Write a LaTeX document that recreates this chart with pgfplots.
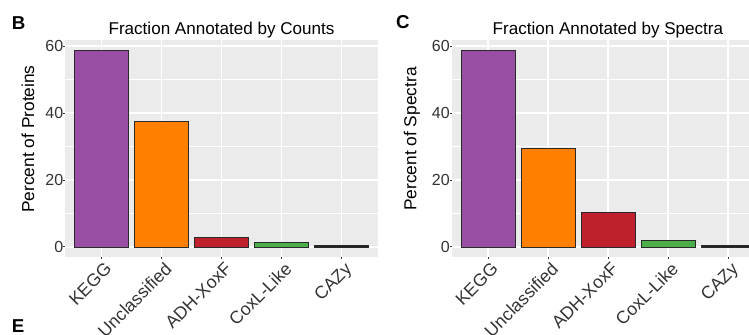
\documentclass[border=0pt]{standalone}
\usepackage{fontspec}
\setmainfont{Liberation Sans}
\usepackage{pgfplots}
\pgfplotsset{compat=1.18}
\definecolor{panelbg}{HTML}{EBEBEB}
\definecolor{cpurple}{HTML}{984EA3}
\definecolor{corange}{HTML}{FF7F00}
\definecolor{cred}{HTML}{C01F2E}
\definecolor{cgreen}{HTML}{4DAF4A}
\definecolor{cdark}{HTML}{222222}
\definecolor{barline}{HTML}{2A2A2A}
\definecolor{ticktext}{HTML}{333333}
\newcommand{\ytfont}{\fontsize{12}{14}\selectfont}
\newcommand{\xtfont}{\fontsize{13.3}{16}\selectfont}
\newcommand{\lblfont}{\fontsize{13}{15}\selectfont}
\newcommand{\ttlfont}{\fontsize{12.8}{15}\selectfont}
\pgfplotsset{
  ggbar/.style={
    scale only axis,
    height=162.5pt,
    ymin=-2.95, ymax=61.85,
    xmin=-0.6,
    axis background/.style={fill=panelbg},
    axis line style={draw=none},
    tick pos=left, tick align=outside,
    major tick length=1.5pt, minor tick length=0pt,
    every tick/.style={draw=black!80, line width=0.6pt},
    ytick={0,20,40,60}, minor ytick={10,30,50},
    xtick={0,1,2,3,4},
    xticklabels={KEGG,Unclassified,ADH-XoxF,CoxL-Like,CAZy},
    grid=both,
    major grid style={white, line width=1.1pt},
    minor grid style={white, line width=0.55pt},
    /pgf/number format/assume math mode=true,
    yticklabel style={font=\ytfont, text=ticktext, inner sep=0pt, xshift=0pt},
    xticklabel style={font=\xtfont, text=ticktext, rotate=45, anchor=north east, inner sep=0pt, yshift=-2.5pt},
    ylabel style={font=\lblfont, anchor=center},
    title style={font=\ttlfont, anchor=base, yshift=-1.5pt},
  },
  ggb/.style={ybar, bar width=0.9, bar shift=0pt, draw=barline, line width=0.5pt},
}
\begin{document}
\begin{tikzpicture}
\path[use as bounding box] (0,0) rectangle (561.75pt,251.25pt);
% Panel B
\begin{axis}[ggbar,
  at={(49.125pt,58.725pt)}, anchor=south west,
  width=234pt, xmax=4.6,
  title={Fraction Annotated by Counts},
  title style={at={(axis description cs:0.5,1)}},
  ylabel={Percent of Proteins},
  ylabel style={at={(axis description cs:-0.1202,0.543)}},
]
\addplot[ggb, fill=cpurple] coordinates {(0,58.8)};
\addplot[ggb, fill=corange] coordinates {(1,37.5)};
\addplot[ggb, fill=cred] coordinates {(2,2.8)};
\addplot[ggb, fill=cgreen] coordinates {(3,1.3)};
\addplot[ggb, fill=cdark] coordinates {(4,0.3)};
\end{axis}
% Panel C
\begin{axis}[ggbar,
  at={(339pt,58.725pt)}, anchor=south west,
  width=222.75pt, xmax=4.35,
  title={Fraction Annotated by Spectra},
  title style={at={(axis description cs:0.525,1)}},
  ylabel={Percent of Spectra},
  ylabel style={at={(axis description cs:-0.1347,0.543)}},
]
\addplot[ggb, fill=cpurple] coordinates {(0,58.8)};
\addplot[ggb, fill=corange] coordinates {(1,29.5)};
\addplot[ggb, fill=cred] coordinates {(2,10.3)};
\addplot[ggb, fill=cgreen] coordinates {(3,1.8)};
\addplot[ggb, fill=cdark] coordinates {(4,0.3)};
\end{axis}
\node[anchor=base west, inner sep=0pt, font=\fontsize{14}{16}\selectfont\bfseries] at (8.8pt,229pt) {B};
\node[anchor=base west, inner sep=0pt, font=\fontsize{14}{16}\selectfont\bfseries] at (296.8pt,230pt) {C};
\node[anchor=base west, inner sep=0pt, font=\fontsize{14}{16}\selectfont\bfseries] at (8.8pt,1.5pt) {E};
\end{tikzpicture}
\end{document}
